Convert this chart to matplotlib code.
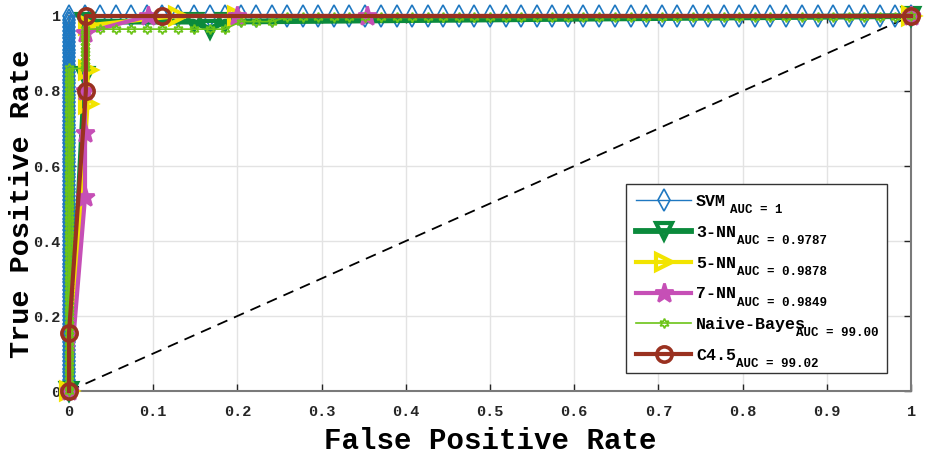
import matplotlib
matplotlib.use('Agg')
import matplotlib.pyplot as plt

plt.rcParams['font.family'] = 'Liberation Mono'
plt.rcParams['font.weight'] = 'bold'

# ROC points
svm_fpr = [
    0, 0, 0, 0, 0, 0, 0, 0, 0, 0, 0, 0, 0, 0, 0, 0, 0, 0, 0, 0,
    0, 0, 0, 0, 0, 0, 0, 0, 0, 0, 0, 0, 0, 0, 0, 0, 0, 0, 0, 0,
    0, 0, 0, 0, 0, 0, 0, 0, 0, 0, 0, 0, 0, 0, 0, 0, 0, 0, 0, 0,
    0, 0, 0, 0, 0, 0, 0, 0, 0, 0, 0, 0, 0, 0, 0, 0, 0, 0, 0, 0,
    0, 0, 0, 0, 0, 0, 0, 0, 0, 0, 0, 0, 0, 0, 0, 0, 0, 0, 0, 0, 0,
    0.019, 0.037, 0.056, 0.074, 0.093, 0.111, 0.130, 0.148, 0.167, 0.185,
    0.204, 0.222, 0.241, 0.259, 0.278, 0.296, 0.315, 0.333, 0.352, 0.370,
    0.389, 0.407, 0.426, 0.444, 0.463, 0.481, 0.500, 0.519, 0.537, 0.556,
    0.574, 0.593, 0.611, 0.630, 0.648, 0.667, 0.685, 0.704, 0.722, 0.741,
    0.759, 0.778, 0.796, 0.815, 0.833, 0.852, 0.870, 0.889, 0.907, 0.926,
    0.944, 0.963, 0.981, 1.0]
svm_tpr = [
    0.00, 0.01, 0.02, 0.03, 0.04, 0.05, 0.06, 0.07, 0.08, 0.09,
    0.10, 0.11, 0.12, 0.13, 0.14, 0.15, 0.16, 0.17, 0.18, 0.19,
    0.20, 0.21, 0.22, 0.23, 0.24, 0.25, 0.26, 0.27, 0.28, 0.29,
    0.30, 0.31, 0.32, 0.33, 0.34, 0.35, 0.36, 0.37, 0.38, 0.39,
    0.40, 0.41, 0.42, 0.43, 0.44, 0.45, 0.46, 0.47, 0.48, 0.49,
    0.50, 0.51, 0.52, 0.53, 0.54, 0.55, 0.56, 0.57, 0.58, 0.59,
    0.60, 0.61, 0.62, 0.63, 0.64, 0.65, 0.66, 0.67, 0.68, 0.69,
    0.70, 0.71, 0.72, 0.73, 0.74, 0.75, 0.76, 0.77, 0.78, 0.79,
    0.80, 0.81, 0.82, 0.83, 0.84, 0.85, 0.86, 0.87, 0.88, 0.89,
    0.90, 0.91, 0.92, 0.93, 0.94, 0.95, 0.96, 0.97, 0.98, 0.99, 1.00,
    1, 1, 1, 1, 1, 1, 1, 1, 1, 1, 1, 1, 1, 1, 1, 1, 1, 1, 1, 1,
    1, 1, 1, 1, 1, 1, 1, 1, 1, 1, 1, 1, 1, 1, 1, 1, 1, 1, 1, 1,
    1, 1, 1, 1, 1, 1, 1, 1, 1, 1, 1, 1, 1, 1]

knn3_fpr = [0, 0.019, 0.019, 0.148, 0.167, 0.185, 1.0]
knn3_tpr = [0, 0.84, 0.985, 0.985, 0.965, 0.985, 1.0]

knn5_fpr = [0, 0.022, 0.022, 0.022, 0.13, 0.2, 1.0]
knn5_tpr = [0, 0.764, 0.855, 0.975, 1.0, 1.0, 1.0]

knn7_fpr = [0, 0.019, 0.019, 0.019, 0.019, 0.094, 0.2, 0.354, 1.0]
knn7_tpr = [0, 0.517, 0.688, 0.8, 0.955, 1.0, 1.0, 1.0, 1.0]

nb_fpr = [
    0, 0, 0, 0, 0, 0, 0, 0, 0, 0, 0, 0, 0, 0, 0, 0, 0, 0, 0, 0,
    0, 0, 0, 0, 0, 0, 0, 0, 0, 0, 0, 0, 0, 0, 0, 0, 0, 0, 0, 0,
    0, 0, 0, 0, 0, 0, 0, 0, 0, 0, 0, 0, 0, 0, 0, 0, 0, 0, 0, 0,
    0, 0, 0, 0, 0, 0, 0, 0, 0, 0, 0, 0, 0, 0, 0, 0, 0, 0, 0, 0,
    0, 0, 0, 0, 0, 0, 0,
    0.019, 0.019, 0.019, 0.019, 0.019, 0.019, 0.019, 0.019, 0.019, 0.019, 0.019,
    0.037, 0.056, 0.074, 0.093, 0.111, 0.130, 0.148, 0.167, 0.185,
    0.204, 0.222, 0.241,
    0.259, 0.278, 0.296, 0.315, 0.333, 0.352, 0.370,
    0.389, 0.407, 0.426, 0.444, 0.463, 0.481, 0.500, 0.519, 0.537, 0.556,
    0.574, 0.593, 0.611, 0.630, 0.648, 0.667, 0.685, 0.704, 0.722, 0.741,
    0.759, 0.778, 0.796, 0.815, 0.833, 0.852, 0.870, 0.889, 0.907, 0.926,
    0.944, 0.963, 0.981, 1.0]
nb_tpr = [
    0.00, 0.01, 0.02, 0.03, 0.04, 0.05, 0.06, 0.07, 0.08, 0.09,
    0.10, 0.11, 0.12, 0.13, 0.14, 0.15, 0.16, 0.17, 0.18, 0.19,
    0.20, 0.21, 0.22, 0.23, 0.24, 0.25, 0.26, 0.27, 0.28, 0.29,
    0.30, 0.31, 0.32, 0.33, 0.34, 0.35, 0.36, 0.37, 0.38, 0.39,
    0.40, 0.41, 0.42, 0.43, 0.44, 0.45, 0.46, 0.47, 0.48, 0.49,
    0.50, 0.51, 0.52, 0.53, 0.54, 0.55, 0.56, 0.57, 0.58, 0.59,
    0.60, 0.61, 0.62, 0.63, 0.64, 0.65, 0.66, 0.67, 0.68, 0.69,
    0.70, 0.71, 0.72, 0.73, 0.74, 0.75, 0.76, 0.77, 0.78, 0.79,
    0.80, 0.81, 0.82, 0.83, 0.84, 0.85, 0.86,
    0.86, 0.87, 0.88, 0.89, 0.90, 0.91, 0.92, 0.93, 0.94, 0.95, 0.965,
    0.965, 0.965, 0.965, 0.965, 0.965, 0.965, 0.965, 0.965, 0.965,
    0.985, 0.985, 0.985,
    0.997, 0.997, 0.997, 0.997, 0.997, 0.997, 0.997,
    0.997, 0.997, 0.997, 0.997, 0.997, 0.997, 0.997, 0.997, 0.997, 0.997,
    0.997, 0.997, 0.997, 0.997, 0.997, 0.997, 0.997, 0.997, 0.997, 0.997,
    0.997, 0.997, 0.997, 0.997, 0.997, 0.997, 0.997, 0.997, 0.997, 0.997,
    0.997, 0.997, 0.997, 1.0]

c45_fpr = [0, 0, 0.02, 0.02, 0.11, 1.0]
c45_tpr = [0, 0.155, 0.8, 1.0, 1.0, 1.0]

names = ['SVM', '3-NN', '5-NN', '7-NN', 'Naive-Bayes', 'C4.5']
auc_text = ['AUC = 1', 'AUC = 0.9787', 'AUC = 0.9878', 'AUC = 0.9849', 'AUC = 99.00', 'AUC = 99.02']

x_ticks = [0, 0.1, 0.2, 0.3, 0.4, 0.5, 0.6, 0.7, 0.8, 0.9, 1]
x_tick_labels = ['0', '0.1', '0.2', '0.3', '0.4', '0.5', '0.6', '0.7', '0.8', '0.9', '1']
y_ticks = [0, 0.2, 0.4, 0.6, 0.8, 1]
y_tick_labels = ['0', '0.2', '0.4', '0.6', '0.8', '1']

fig = plt.figure(figsize=(9.34, 4.57), dpi=100)
ax = fig.add_axes([0.0739, 0.1444, 0.9015, 0.8206])

styles = [
    # color, lw, marker, ms, mew
    ('#1f78c1', 1.0, 'd', 11, 1.2),
    ('#0b8a3c', 4.2, 'v', 12, 3.0),
    ('#f2e400', 3.0, '>', 11, 3.0),
    ('#c64fb6', 3.0, '*', 14, 2.0),
    ('#6cc417', 1.2, (6, 1, 0), 7, 1.2),
    ('#9a3120', 3.0, 'o', 11, 2.6),
]
curves = [(svm_fpr, svm_tpr), (knn3_fpr, knn3_tpr), (knn5_fpr, knn5_tpr),
          (knn7_fpr, knn7_tpr), (nb_fpr, nb_tpr), (c45_fpr, c45_tpr)]

ax.plot([0, 1], [0, 1], '--', color='black', lw=1.3, dashes=(6, 4), zorder=2)

handles = []
for i, (fpr, tpr) in enumerate(curves):
    color, lw, marker, ms, mew = styles[i]
    mfc = color if marker == '*' else 'none'
    h, = ax.plot(fpr, tpr, color=color, lw=lw, marker=marker, ms=ms, mew=mew,
                 mfc=mfc, mec=color, clip_on=False, zorder=3 + i)
    handles.append(h)

ax.set_xlim(0, 1)
ax.set_ylim(0, 1)
ax.set_xticks(x_ticks)
ax.set_xticklabels(x_tick_labels)
ax.set_yticks(y_ticks)
ax.set_yticklabels(y_tick_labels)
ax.tick_params(direction='in', length=5, width=1, colors='#262626', labelsize=11,
               top=True, right=True)
ax.tick_params(axis='x', pad=10)
ax.tick_params(axis='y', pad=6)
ax.grid(True, color='#e3e3e3', lw=1)
ax.set_axisbelow(True)
for side in ax.spines.values():
    side.set_color('#7a7a7a')
    side.set_linewidth(1.5)

ax.set_xlabel('False Positive Rate', fontsize=21, fontweight='bold', labelpad=6)
ax.set_ylabel('True Positive Rate', fontsize=20.5, fontweight='bold', labelpad=-1)

leg = ax.legend(handles, names, loc='lower left', bbox_to_anchor=(0.6615, 0.048, 0.31, 0.5),
                mode='expand', borderaxespad=0, fontsize=12, handlelength=3.3,
                handletextpad=0.3, labelspacing=0.95, fancybox=False, framealpha=1,
                edgecolor='#333333', borderpad=0.6)
leg.get_frame().set_linewidth(1.0)
leg.set_zorder(20)

# subscript "AUC = ..." next to each legend name
sub_dx = [3, 1, 1, 1, -7, 0]
for i, t in enumerate(leg.get_texts()):
    ax.annotate(auc_text[i], xy=(1, 0), xycoords=t, xytext=(sub_dx[i], -3),
                textcoords='offset points', fontsize=9, fontweight='bold',
                va='baseline', ha='left', zorder=25)

fig.savefig('out.png', dpi=100)
